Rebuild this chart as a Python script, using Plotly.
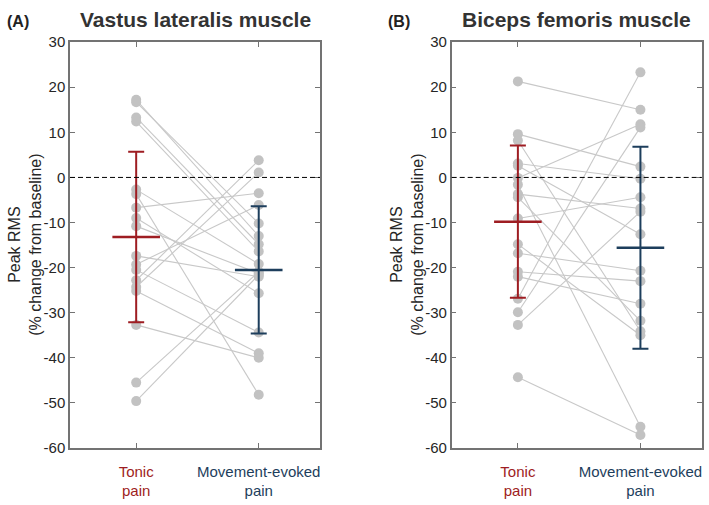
import plotly.graph_objects as go

# ---------------- data ----------------
categories = ["Tonic<br>pain", "Movement-evoked<br>pain"]
cat_x = [1, 2]

# Vastus lateralis (A): paired values, tonic -> movement-evoked
vl_tonic = [17.2, 16.7, 13.3, 12.4, -2.7, -3.7, -6.7, -9.0, -10.8,
            -17.4, -19.3, -20.5, -22.8, -24.3, -25.2, -32.7, -45.5, -49.6]
vl_move = [-13.0, -10.2, -14.8, -16.4, -19.2, -48.2, -3.5, -25.7, -21.3,
           -22.0, -6.1, -34.4, 3.8, 1.1, -39.0, -40.0, -20.9, -21.6]
vl_mean = [-13.2, -20.5]
vl_sd = [18.9, 14.1]

# Biceps femoris (B)
bf_tonic = [21.3, 9.6, 8.2, 3.1, 2.6, -0.1, -1.6, -3.7, -4.4,
            -9.1, -14.8, -16.8, -20.9, -22.0, -26.9, -29.9, -32.7, -44.3]
bf_move = [15.0, 2.4, -34.1, -0.3, -12.6, 11.8, -55.3, -6.9, -31.8,
           -4.4, -35.0, -20.7, -23.0, -28.0, 23.3, 11.1, -7.6, -57.1]
bf_mean = [-9.8, -15.6]
bf_sd = [16.9, 22.4]

y_ticks = [30, 20, 10, 0, -10, -20, -30, -40, -50, -60]
y_tick_text = ["30", "20", "10", "0", "-10", "-20", "-30", "-40", "-50", "-60"]

# ---------------- style ----------------
RED = "#9E1D22"
BLUE = "#1D3E5C"
GRAY_PT = "#C2C2C2"
GRAY_LN = "#C8C8C8"
AXIS = "#737373"
TXT = "#262626"
FONT = "Liberation Sans, Arial, sans-serif"

W, H = 709, 505
fig = go.Figure()


def add_panel(tonic, move, mean, sd, xa, ya):
    lx, ly = [], []
    for t, m in zip(tonic, move):
        lx += [cat_x[0], cat_x[1], None]
        ly += [t, m, None]
    fig.add_trace(go.Scatter(x=lx, y=ly, mode="lines", xaxis=xa, yaxis=ya,
                             line=dict(color=GRAY_LN, width=1.1),
                             hoverinfo="skip", showlegend=False))
    fig.add_trace(go.Scatter(x=[cat_x[0]] * len(tonic) + [cat_x[1]] * len(move),
                             y=list(tonic) + list(move), mode="markers",
                             xaxis=xa, yaxis=ya,
                             marker=dict(color=GRAY_PT, size=10, line=dict(width=0)),
                             showlegend=False))
    for i, col in enumerate([RED, BLUE]):
        fig.add_trace(go.Scatter(
            x=[cat_x[i]], y=[mean[i]], mode="markers", xaxis=xa, yaxis=ya,
            error_y=dict(type="data", array=[sd[i]], visible=True,
                         color=col, thickness=2, width=8),
            marker=dict(symbol="line-ew", size=34, color=col,
                        line=dict(color=col, width=2.5)),
            showlegend=False))


add_panel(vl_tonic, vl_move, vl_mean, vl_sd, "x", "y")
add_panel(bf_tonic, bf_move, bf_mean, bf_sd, "x2", "y2")

tick_text = [
    f"<span style='color:{RED}'>{categories[0]}</span>",
    f"<span style='color:{BLUE}'>{categories[1]}</span>",
]

x_dom1 = [70 / W, 320 / W]
x_dom2 = [451.7 / W, 701.7 / W]
y_dom = [(H - 454.3) / H, (H - 34.3) / H]

common_x = dict(range=[0.46, 2.5], tickvals=cat_x, ticktext=tick_text,
                ticks="inside", ticklen=5, tickcolor=AXIS, tickwidth=1.2,
                showline=True, linecolor=AXIS, linewidth=1.5, mirror="allticks",
                showgrid=False, zeroline=False, ticklabelstandoff=9,
                tickfont=dict(family=FONT, size=15, color=TXT))
common_y = dict(range=[-60, 30], tickvals=y_ticks, ticktext=y_tick_text,
                ticks="inside", ticklen=5,
                tickcolor=AXIS, tickwidth=1.2, showline=True, linecolor=AXIS,
                linewidth=1.5, mirror="allticks", showgrid=False, zeroline=False,
                tickfont=dict(family=FONT, size=15, color=TXT))

fig.update_layout(
    width=W, height=H, margin=dict(l=0, r=0, t=0, b=0),
    paper_bgcolor="white", plot_bgcolor="white",
    xaxis=dict(domain=x_dom1, anchor="y", **common_x),
    yaxis=dict(domain=y_dom, anchor="x", **common_y),
    xaxis2=dict(domain=x_dom2, anchor="y2", **common_x),
    yaxis2=dict(domain=y_dom, anchor="x2", **common_y),
)

# zero reference dashed lines
for xr, yr in [("x", "y"), ("x2", "y2")]:
    fig.add_shape(type="line", xref=f"{xr} domain", yref=yr, x0=0, x1=1, y0=0, y1=0,
                  line=dict(color="black", width=1, dash="5px,3px"), layer="above")

ann = []
# panel titles
for cx, title, lab, lx in [((70 + 320) / 2, "Vastus lateralis muscle", "(A)", 5),
                           ((451.7 + 701.7) / 2, "Biceps femoris muscle", "(B)", 386)]:
    ann.append(dict(x=cx / W, y=1 - 11 / H, xref="paper", yref="paper",
                    text=f"<b>{title}</b>", showarrow=False,
                    xanchor="center", yanchor="middle",
                    font=dict(family=FONT, size=21, color="#333333")))
    ann.append(dict(x=lx / W, y=1 - 13 / H, xref="paper", yref="paper",
                    text=f"<b>{lab}</b>", showarrow=False,
                    xanchor="left", yanchor="middle",
                    font=dict(family=FONT, size=16, color="#222222")))
# y axis titles
for x0 in [25, 407]:
    ann.append(dict(x=x0 / W, y=(H - 244) / H, xref="paper", yref="paper",
                    text="Peak RMS<br>(% change from baseline)", showarrow=False,
                    textangle=-90, xanchor="center", yanchor="middle",
                    font=dict(family=FONT, size=16, color=TXT)))
fig.update_layout(annotations=ann)

fig.write_html("out.html")
